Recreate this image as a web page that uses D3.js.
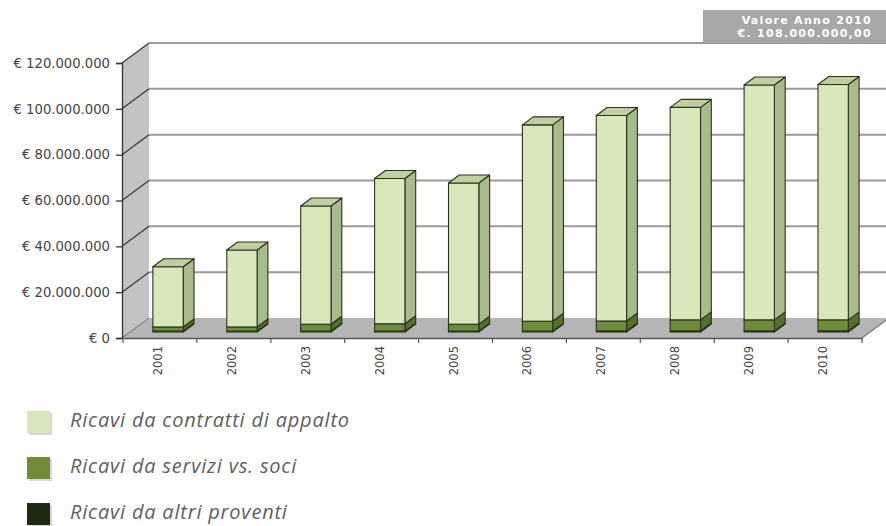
<!DOCTYPE html>
<html>
<head>
<meta charset="utf-8">
<script src="https://cdn.jsdelivr.net/npm/d3@7"></script>
<style>
  body { margin: 0; background: #fff; }
  svg { display: block; }
</style>
</head>
<body>
<svg id="chart" width="886" height="526"></svg>
<script>
// Ricavi per anno, in milioni di euro
const years = ["2001", "2002", "2003", "2004", "2005", "2006", "2007", "2008", "2009", "2010"];
const contratti = [26.3, 33.6, 51.6, 63.4, 61.6, 85.7, 89.7, 92.7, 102.5, 102.7];
const servizi   = [1.8, 1.8, 3.0, 3.2, 3.0, 4.3, 4.3, 4.8, 4.8, 4.8];
const altri     = [0.4, 0.4, 0.4, 0.4, 0.4, 0.4, 0.5, 0.5, 0.5, 0.5];
const yTicks = [0, 20, 40, 60, 80, 100, 120];
const seriesNames = ["Ricavi da contratti di appalto", "Ricavi da servizi vs. soci", "Ricavi da altri proventi"];
const boxLines = ["Valore Anno 2010", "€. 108.000.000,00"];

const svg = d3.select("#chart");

// plot frame: front plane and depth offset of the 3D box
const frontLeft = 122, frontRight = 862, floorY = 338, topY = 63;
const depthX = 27, depthY = -20;

const x = d3.scaleBand().domain(years).range([frontLeft + 1, frontRight]);
const y = d3.scaleLinear().domain([0, 120]).range([floorY, topY]);

const it = d3.formatLocale({ decimal: ",", thousands: ".", grouping: [3], currency: ["€ ", ""] });
const fmt = v => it.format("$,.0f")(v * 1e6);

const rows = years.map((yr, i) => ({ year: yr, altri: altri[i], servizi: servizi[i], contratti: contratti[i] }));
const stack = d3.stack().keys(["altri", "servizi", "contratti"])(rows);

// back wall
svg.append("rect")
  .attr("x", frontLeft + depthX).attr("y", y(120) + depthY)
  .attr("width", 886 - frontLeft - depthX).attr("height", y(0) - y(120))
  .attr("fill", "#fff");

// side wall
svg.append("polygon")
  .attr("points", [[frontLeft, y(0)], [frontLeft + depthX, y(0) + depthY],
                   [frontLeft + depthX, y(120) + depthY], [frontLeft, y(120)]].join(" "))
  .attr("fill", "#c3c3c3");

// floor
svg.append("polygon")
  .attr("points", [[frontLeft, y(0)], [frontRight, y(0)],
                   [frontRight + depthX, y(0) + depthY], [frontLeft + depthX, y(0) + depthY]].join(" "))
  .attr("fill", "#b5b5b5");

// gridlines on the back wall
svg.append("g").selectAll("line").data(yTicks.slice(1)).join("line")
  .attr("x1", frontLeft + depthX).attr("x2", 886)
  .attr("y1", d => y(d) + depthY).attr("y2", d => y(d) + depthY)
  .attr("stroke", "#9a9a9a").attr("stroke-width", 2);

// gridlines across the side wall
svg.append("g").selectAll("line").data(yTicks).join("line")
  .attr("x1", frontLeft).attr("x2", frontLeft + depthX)
  .attr("y1", d => y(d)).attr("y2", d => y(d) + depthY)
  .attr("stroke", d => d === 0 ? "#8a8a8a" : "#3a3a3a").attr("stroke-width", 1.3);

// floor right edge
svg.append("line")
  .attr("x1", frontRight).attr("y1", y(0))
  .attr("x2", frontRight + depthX).attr("y2", y(0) + depthY)
  .attr("stroke", "#777").attr("stroke-width", 1.2);

// columns
const bw = x.bandwidth();
const barW = bw * 0.41;
const f0 = 0.3, f1 = 0.7;
const offX = depthX * f0, offY = depthY * f0;
const ddx = depthX * (f1 - f0), ddy = depthY * (f1 - f0);

const palette = {
  contratti: { front: "#d9e8bb", side: "#a9ba8c", top: "#bfcf9f" },
  servizi:   { front: "#6e8c3a", side: "#55702b", top: "#7b9a45" },
  altri:     { front: "#1f2a12", side: "#151d0b", top: "#2a3818" }
};
const edge = "#2b3320";

const bars = svg.append("g");
years.forEach((yr, i) => {
  const xl = x(yr) + (bw - barW) / 2 + offX;
  const xr = xl + barW;
  stack.forEach((layer, li) => {
    const [v0, v1] = layer[i];
    const c = palette[layer.key];
    const yb = y(v0) + offY, yt = y(v1) + offY;
    bars.append("polygon")
      .attr("points", [[xr, yt], [xr + ddx, yt + ddy], [xr + ddx, yb + ddy], [xr, yb]].join(" "))
      .attr("fill", c.side).attr("stroke", edge).attr("stroke-width", 1.1).attr("stroke-linejoin", "round");
    bars.append("rect")
      .attr("x", xl).attr("y", yt).attr("width", barW).attr("height", yb - yt)
      .attr("fill", c.front).attr("stroke", edge).attr("stroke-width", 1.1);
    if (li === stack.length - 1) {
      bars.append("polygon")
        .attr("points", [[xl, yt], [xl + ddx, yt + ddy], [xr + ddx, yt + ddy], [xr, yt]].join(" "))
        .attr("fill", c.top).attr("stroke", edge).attr("stroke-width", 1.1).attr("stroke-linejoin", "round");
    }
  });
});

// value axis
const yAxis = svg.append("g")
  .attr("transform", `translate(${frontLeft},0)`)
  .call(d3.axisLeft(y).tickValues(yTicks).tickFormat(fmt).tickSize(6).tickPadding(6));
yAxis.select(".domain").attr("stroke", "#333").attr("stroke-width", 1.3);
yAxis.selectAll(".tick line").attr("stroke", "#333").attr("stroke-width", 1.3);
yAxis.selectAll("text")
  .attr("fill", "#444").attr("font-family", "DejaVu Sans, Verdana, sans-serif").attr("font-size", 13.2);

// category axis
const xAxis = svg.append("g")
  .attr("transform", `translate(0,${floorY})`)
  .call(d3.axisBottom(x).tickSize(0).tickPadding(0));
xAxis.select(".domain").attr("stroke", "#555").attr("stroke-width", 1.3);
xAxis.selectAll("text")
  .attr("fill", "#444").attr("font-family", "DejaVu Sans, Verdana, sans-serif").attr("font-size", 11.5)
  .attr("transform", "translate(-2,8) rotate(-90)")
  .attr("text-anchor", "end").attr("dy", "0.35em").attr("dx", 0).attr("y", 0);
// ticks at category boundaries
xAxis.append("g").selectAll("line").data(years.concat(["end"])).join("line")
  .attr("x1", d => d === "end" ? frontRight : x(d))
  .attr("x2", d => d === "end" ? frontRight : x(d))
  .attr("y1", 0).attr("y2", 5)
  .attr("stroke", "#555").attr("stroke-width", 1.2);

// top-right value box
const box = svg.append("g");
box.append("rect").attr("x", 703).attr("y", 10).attr("width", 183).attr("height", 33).attr("fill", "#a7a7a7");
box.selectAll("text").data(boxLines).join("text")
  .attr("x", 872).attr("y", (d, i) => 24 + i * 13)
  .attr("text-anchor", "end")
  .attr("fill", "#fff").attr("font-family", "DejaVu Sans, Verdana, sans-serif")
  .attr("font-weight", "bold").attr("font-size", 11).attr("letter-spacing", 1.3)
  .text(d => d);

// legend
const legendColors = [palette.contratti.front, palette.servizi.front, palette.altri.front];
const legend = svg.append("g");
seriesNames.forEach((name, i) => {
  const gy = 411 + i * 46;
  legend.append("rect").attr("x", 29).attr("y", gy + 2).attr("width", 23).attr("height", 22)
    .attr("fill", "#bdbdbd").attr("opacity", 0.6);
  legend.append("rect").attr("x", 27).attr("y", gy).attr("width", 23).attr("height", 22)
    .attr("fill", legendColors[i]);
  legend.append("text")
    .attr("x", 70).attr("y", gy + 16)
    .attr("fill", "#606060").attr("font-family", "Open Sans, sans-serif")
    .attr("font-style", "italic").attr("font-size", 20).attr("letter-spacing", 0.8)
    .text(name);
});
</script>
</body>
</html>
